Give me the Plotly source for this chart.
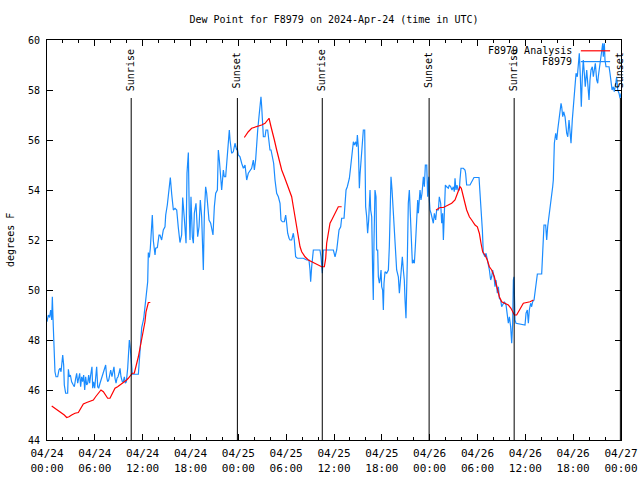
import plotly.graph_objects as go
import pandas as pd

# ---------------- data (hours after 2024-04-24 00:00 UTC, degrees F) ----------------
BASE = "2024-04-24 00:00"

obs_day1 = [(0.0,48.73),(0.17,49.0),(0.33,48.9),(0.46,49.2),(0.59,48.8),(0.67,49.73),(0.79,48.53),(0.88,47.2),(1.0,46.73),(1.13,46.53),(1.34,46.53),(1.5,46.8),(1.63,46.87),(1.76,46.73),(1.84,47.0),(1.97,47.4),(2.09,47.0),(2.17,46.2),(2.34,45.87),(2.59,45.87),(2.68,46.83),(2.8,46.53),(2.93,46.6),(3.09,46.33),(3.3,46.2),(3.43,46.13),(3.6,46.47),(3.72,46.67),(3.85,46.27),(3.93,46.47),(4.1,46.67),(4.22,46.13),(4.35,46.53),(4.47,46.33),(4.6,46.6),(4.73,46.0),(4.85,46.53),(4.98,46.2),(5.1,46.27),(5.23,46.6),(5.35,46.27),(5.48,46.6),(5.64,46.93),(5.73,46.07),(5.85,46.33),(5.98,46.07),(6.1,46.67),(6.23,46.93),(6.36,46.13),(6.48,46.07),(6.65,46.27),(6.77,46.4),(6.9,46.47),(7.02,46.67),(7.19,46.8),(7.36,47.0),(7.48,46.53),(7.61,46.33),(7.74,46.4),(7.86,46.67),(7.99,46.8),(8.15,46.53),(8.28,46.8),(8.4,46.93),(8.53,46.47),(8.66,46.27),(8.78,46.47),(8.91,46.53),(9.03,46.67),(9.16,46.87),(9.28,46.53),(9.45,46.33),(9.57,46.33),(9.7,46.53),(9.83,46.27),(9.95,46.33),(10.12,46.87),(10.2,47.33),(10.33,48.0),(10.45,47.67),(10.58,46.8),(10.7,46.63),(11.46,46.63),(11.58,47.3),(11.88,48.5),(12.13,48.85),(12.29,49.3),(12.5,49.87),(12.63,50.33),(12.71,51.5),(12.84,51.3),(12.96,51.67),(13.13,52.5),(13.21,53.0),(13.34,51.97),(13.55,51.4),(13.63,51.67),(13.84,51.7),(14.05,52.2),(14.17,52.2),(14.38,52.0),(14.59,52.4),(14.8,52.53),(14.89,53.0),(15.09,53.4),(15.22,53.84),(15.35,54.2),(15.47,54.5),(15.64,53.84),(15.85,53.2),(16.06,53.27),(16.27,53.2),(16.47,52.5),(16.68,51.9),(16.89,52.2),(17.02,53.7),(17.23,52.84),(17.44,51.87),(17.56,54.67),(17.73,55.5),(17.85,53.0),
(17.94,52.0),(18.06,53.73),(18.23,52.13),(18.36,51.87),(18.48,53.07),(18.69,53.47),(18.9,52.13),(19.07,52.53),(19.23,53.6),(19.4,52.93),(19.48,51.6),(19.61,50.8),(19.74,53.07),(19.9,54.13),(20.03,53.87),(20.15,53.47),(20.32,52.8),(20.53,52.67),(20.66,52.4),(20.82,52.2),(20.99,53.33),(21.16,53.87),(21.37,54.0),(21.49,55.6),(21.62,55.2),(21.79,54.53),(21.91,54.0),(22.12,54.8),(22.24,54.53),(22.41,54.53),(22.58,55.33),(22.75,56.07),(22.87,56.4),(22.96,56.0),(23.08,55.73),(23.16,55.47),(23.37,55.53),(23.58,55.87),(23.79,55.6),(23.87,55.67)]

obs_day2 = [(24.0,55.4),(24.21,55.33),(24.42,55.07),(24.63,54.87),(24.84,55.0),(25.05,54.4),(25.25,54.67),(25.46,54.8),(25.67,54.87),(25.88,55.2),(26.01,54.8),(26.17,55.2),(26.3,56.13),(26.43,56.4),(26.59,56.93),(26.72,57.33),(26.84,57.73),(26.93,57.33),(27.01,56.8),(27.14,56.13),(27.35,56.13),(27.47,56.4),(27.68,56.4),(27.76,56.13),(27.97,55.6),(28.1,55.6),(28.27,55.33),(28.43,55.07),(28.6,54.4),(28.81,53.87),(29.02,53.73),(29.23,53.47),(29.35,52.8),(29.52,52.73),(29.77,52.73),(29.94,53.0),(30.06,52.67),(30.19,52.27),(30.36,52.07),(30.48,52.0),(30.69,52.0),(30.9,52.27),(31.02,52.0),(31.19,51.33),(31.4,51.27),(31.74,51.27),(32.15,51.27),(32.57,51.2),(32.86,51.2),(32.99,50.8),(33.07,50.33),(33.2,50.93),(33.41,51.6),(33.83,51.6),(34.24,51.6),(34.37,51.33),(34.45,50.93),(34.54,50.67),(34.66,51.6),
(34.75,51.6),(35.92,51.6),(36.13,51.33),(36.34,51.6),(36.46,51.93),(36.63,52.4),(36.84,52.53),(36.96,52.87),(37.26,52.87),(37.38,53.33),(37.51,54.0),(37.67,54.13),(37.93,54.47),(38.09,54.93),(38.22,55.33),(38.34,55.73),(38.43,55.93),(38.55,55.8),(38.72,55.93),(38.84,55.73),(38.93,56.2),(39.05,55.73),(39.18,54.07),(39.26,54.6),(39.47,55.47),(39.6,56.27),(39.68,56.4),(39.85,56.4),(39.97,53.33),(40.1,52.93),(40.22,52.27),(40.35,52.8),(40.52,54.0),(40.6,53.2),(40.73,52.93),(40.85,50.67),(40.93,49.6),(41.02,52.0),(41.14,54.0),(41.27,53.73),(41.35,51.6),(41.48,51.6),(41.56,50.53),(41.69,50.27),(41.77,50.4),(41.9,50.8),(41.98,50.13),(42.1,50.0),(42.19,49.2),(42.27,50.27),(42.4,50.73),(42.61,50.67),(42.82,50.8),(42.94,51.73),(43.03,53.73),(43.15,54.53),(43.28,54.0),(43.36,53.6),(43.53,52.93),(43.69,51.73),(43.86,50.8),(44.07,50.53),(44.2,49.87),(44.32,50.27),(44.45,50.67),(44.57,51.33),(44.7,50.8),(44.82,50.4),(44.91,49.6),(45.03,48.87),(45.2,51.2),(45.32,53.47),(45.45,54.0),(45.53,53.2),(45.7,51.6),(45.83,51.07),(45.95,51.2),(46.08,51.07),(46.2,51.73),(46.37,53.07),(46.5,53.6),(46.58,53.07),(46.79,54.0),(46.91,53.6),(47.04,53.87),(47.21,54.53),(47.33,54.13),(47.46,55.0),(47.63,55.0),(47.75,53.73),(47.88,54.53)]

obs_day3 = [(47.96,53.6),(48.04,53.2),(48.17,53.07),(48.29,52.93),(48.46,52.67),(48.59,53.07),(48.75,52.8),(48.88,53.2),(49.09,53.2),(49.21,53.73),(49.38,53.47),(49.51,52.67),(49.63,53.07),(49.72,52.0),(49.84,53.33),(49.97,54.2),(50.13,54.13),(50.34,54.07),(50.47,54.2),(50.64,54.13),(50.8,54.0),(50.97,54.13),(51.09,53.93),(51.18,54.47),(51.3,54.0),(51.43,54.2),(51.56,54.0),(51.72,54.0),(51.8,54.4),(51.93,54.87),(52.22,54.87),(52.43,54.8),(52.51,54.67),(52.64,54.2),(53.06,54.2),
(53.4,54.4),(53.56,54.5),(54.19,54.5),(54.31,54.0),(54.44,53.07),(54.61,52.4),(54.73,51.47),(54.94,51.33),(55.07,51.47),(55.23,51.2),(55.36,51.07),(55.49,50.8),(55.65,50.4),(55.78,50.53),(55.9,50.8),(56.07,50.53),(56.2,50.13),(56.32,50.4),(56.49,49.87),(56.62,50.13),(56.74,49.67),(56.91,49.6),(57.03,49.33),(57.24,49.47),(57.37,49.53),(57.58,49.4),(57.74,48.8),(57.87,48.67),(58.0,48.93),(58.16,48.53),(58.29,47.87),(58.41,48.67),(58.5,50.4),(58.58,50.53),(58.7,48.8),(58.83,48.67),(59.96,48.6),(60.09,49.07),(60.25,49.2),(60.38,48.67),(60.5,49.2),(60.67,49.47),(60.79,49.33),(60.92,49.53),(61.09,49.6),(61.21,49.87),(61.34,50.27),(61.51,50.64),(62.05,50.64),(62.13,51.07),(62.26,51.87),(62.34,52.6),(62.55,52.6),(62.68,52.0),(62.8,52.53),(62.97,52.93),(63.1,53.2),(63.3,53.73),(63.43,54.13),
(63.51,54.4),(63.64,55.87),(63.81,56.27),(63.94,56.0),(64.06,56.4),(64.22,56.8),(64.35,57.13),(64.48,57.47),(64.56,57.33),(64.69,56.93),(64.81,57.13),(64.98,56.93),(65.19,56.27),(65.32,56.13),(65.48,56.8),(65.61,56.4),(65.73,55.87),(65.89,56.8),(66.07,57.53),(66.23,58.33),(66.36,58.67),(66.52,58.53),(66.65,59.07),(66.77,59.47),(66.9,58.53),(67.02,57.33),(67.15,58.53),(67.27,59.2),(67.4,58.67),(67.52,58.13),(67.7,58.8),(67.82,58.13),(67.99,57.6),(68.11,58.4),(68.24,58.8),(68.4,58.93),(68.53,58.53),(68.65,58.8),(68.78,59.07),(68.95,58.4),(69.08,58.27),(69.15,58.53),(69.33,58.93),(69.49,59.2),(69.62,59.47),(69.71,59.87),(69.78,59.33),(69.91,59.87),(69.99,59.2),(70.12,58.93),(70.33,58.93),(70.5,58.93),(70.62,58.67),(70.75,58.27),(70.88,58.0),(71.04,58.13),(71.16,57.93),(71.34,58.27),(71.46,58.53),(71.59,58.0),(71.75,57.87),(71.88,57.67),(72.0,57.87)]

analysis_seg1 = [(0.59,45.36),(1.0,45.27),(1.42,45.16),(1.84,45.1),(2.17,45.0),(2.47,44.9),(2.76,44.93),(3.09,45.0),(3.51,45.07),(3.93,45.1),(4.26,45.27),(4.56,45.44),(4.98,45.5),(5.39,45.56),(5.81,45.6),(6.1,45.73),(6.44,45.87),(6.77,46.0),(7.07,45.93),(7.36,45.8),(7.61,45.67),(7.9,45.67),(8.11,45.8),(8.32,45.93),(8.53,46.07),(8.86,46.13),(9.16,46.2),(9.37,46.27),(9.78,46.33),(9.99,46.4),(10.2,46.47),(10.41,46.56),(10.7,46.67),(10.95,46.67),(11.12,46.87),(11.29,47.07),(11.46,47.33),(11.62,47.6),(11.79,47.87),(11.96,48.13),(12.13,48.4),(12.29,48.73),(12.42,49.13),(12.54,49.33),(12.71,49.5),(12.96,49.5)]
analysis_seg2 = [(24.75,56.1),(25.25,56.33),(25.67,56.47),(26.3,56.53),(26.93,56.6),(27.35,56.67),(27.85,56.87),(28.1,56.53),(28.27,56.27),(28.52,56.0),(28.81,55.6),(29.1,55.2),(29.44,54.8),(29.77,54.53),(30.06,54.27),(30.36,54.0),(30.69,53.73),(30.9,53.33),(31.11,52.93),(31.32,52.53),(31.53,52.13),(31.74,51.73),(31.95,51.53),(32.36,51.33),(32.78,51.2),(33.2,51.13),(33.62,51.07),(34.04,51.0),(34.45,50.93),(34.79,50.93),(34.96,51.27),(35.08,51.87),(35.29,52.27),(35.5,52.67),(35.71,52.8),(35.92,52.93),(36.13,53.07),(36.34,53.2),(36.54,53.33),(36.96,53.33)]
analysis_seg3 = [(48.8,53.2),(49.3,53.3),(49.72,53.3),(50.13,53.37),(50.76,53.47),(51.18,53.6),(51.47,53.87),(51.8,54.13),(51.97,54.07),(52.22,53.8),(52.43,53.47),(52.64,53.2),(52.98,52.93),(53.27,52.8),(53.69,52.6),(53.98,52.53),(54.23,52.27),(54.44,51.87),(54.65,51.53),(54.94,51.4),(55.23,51.2),(55.49,50.93),(55.78,50.8),(56.11,50.53),(56.41,50.13),(56.74,49.73),(57.03,49.53),(57.45,49.47),(57.87,49.4),(58.2,49.27),(58.41,49.13),(58.62,49.0),(58.91,49.0),(59.12,49.13),(59.42,49.33),(59.75,49.47),(60.17,49.5),(60.59,49.53),(61.01,49.6)]

sunrise_hours = [10.56, 34.53, 58.6]
sunset_hours = [23.88, 47.93, 71.92]

tick_hours = [0, 6, 12, 18, 24, 30, 36, 42, 48, 54, 60, 66, 72]
tick_labels = ["04/24<br>00:00", "04/24<br>06:00", "04/24<br>12:00", "04/24<br>18:00",
               "04/25<br>00:00", "04/25<br>06:00", "04/25<br>12:00", "04/25<br>18:00",
               "04/26<br>00:00", "04/26<br>06:00", "04/26<br>12:00", "04/26<br>18:00",
               "04/27<br>00:00"]
y_ticks = [44, 46, 48, 50, 52, 54, 56, 58, 60]

# ---------------- helpers ----------------
base = pd.Timestamp(BASE)
def t(h):
    return base + pd.Timedelta(hours=h)

obs = obs_day1 + obs_day2 + obs_day3
obs_x = [t(h) for h, v in obs]
obs_y = [v for h, v in obs]

ana_x, ana_y = [], []
for seg in (analysis_seg1, analysis_seg2, analysis_seg3):
    ana_x += [t(h) for h, v in seg] + [None]
    ana_y += [v for h, v in seg] + [None]

FONT = "DejaVu Sans Mono"
BLUE = "#1a8cff"
RED = "#ff0000"

fig = go.Figure()
fig.add_trace(go.Scatter(x=obs_x, y=obs_y, mode="lines", name="F8979",
                         line=dict(color=BLUE, width=1.2), showlegend=False))
fig.add_trace(go.Scatter(x=ana_x, y=ana_y, mode="lines", name="F8979 Analysis",
                         line=dict(color=RED, width=1.2), showlegend=False,
                         connectgaps=False))

shapes = []
annotations = []
for hs, label in ((sunrise_hours, "Sunrise"), (sunset_hours, "Sunset")):
    for h in hs:
        shapes.append(dict(type="line", xref="x", yref="paper", x0=t(h), x1=t(h),
                           y0=0, y1=0.855, line=dict(color="black", width=1)))
        annotations.append(dict(x=t(h), xref="x", y=0.925, yref="paper",
                                text=label, textangle=-90, showarrow=False,
                                xanchor="center", yanchor="middle",
                                font=dict(family=FONT, size=10, color="black")))

# legend (gnuplot style: text right-aligned, sample to the right)
for ypos, label, col in ((0.973, "F8979 Analysis", RED), (0.946, "F8979", BLUE)):
    annotations.append(dict(x=0.918, xref="paper", y=ypos, yref="paper", text=label,
                            showarrow=False, xanchor="right", yanchor="middle",
                            font=dict(family=FONT, size=10, color="black")))
    shapes.append(dict(type="line", xref="paper", yref="paper", x0=0.930, x1=0.981,
                       y0=ypos, y1=ypos, line=dict(color=col, width=1.2)))

annotations.append(dict(x=-0.0645, xref="paper", y=0.5, yref="paper", text="degrees F",
                        textangle=-90, showarrow=False, xanchor="center", yanchor="middle",
                        font=dict(family=FONT, size=10, color="black")))

W, H = 640, 480
fig.update_layout(
    width=W, height=H,
    margin=dict(l=47, r=19, t=40, b=40),
    paper_bgcolor="white", plot_bgcolor="white",
    title=dict(text="Dew Point for F8979 on 2024-Apr-24 (time in UTC)",
               x=0.5, xref="paper", y=1 - 19 / H, yref="container",
               xanchor="center", yanchor="middle",
               font=dict(family=FONT, size=10, color="black")),
    font=dict(family=FONT, size=10, color="black"),
    shapes=shapes, annotations=annotations,
    showlegend=False,
)
fig.update_xaxes(
    range=[t(0), t(72)], tickvals=[t(h) for h in tick_hours], ticktext=tick_labels,
    ticks="inside", ticklen=6, tickcolor="black", showline=True, linecolor="black",
    linewidth=1, mirror="allticks", showgrid=False, zeroline=False, automargin=False,
    tickfont=dict(family=FONT, size=11, color="black"), ticklabelstandoff=3,
    minor=dict(dtick=2 * 3600 * 1000, tick0=t(0), ticks="inside", ticklen=3,
               tickcolor="black", showgrid=False),
)
fig.update_yaxes(
    range=[44, 60], tickvals=y_ticks, ticks="inside", ticklen=6, tickcolor="black",
    showline=True, linecolor="black", linewidth=1, mirror="allticks",
    showgrid=False, zeroline=False, ticklabelstandoff=4, automargin=False,
    tickfont=dict(family=FONT, size=10, color="black"),
)

# remove the default 8px page margin so the figure sits at the window's origin
fig.write_html("out.html", config=dict(displayModeBar=False),
               post_script="document.body.style.margin='0';document.body.style.overflow='hidden';")
